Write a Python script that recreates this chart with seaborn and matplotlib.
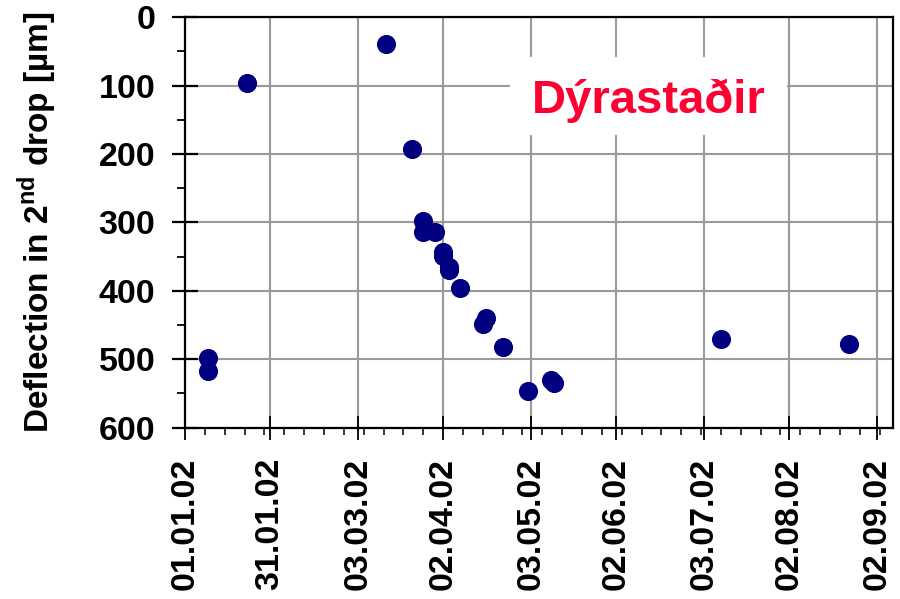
import pandas as pd
import numpy as np
import matplotlib
matplotlib.use("Agg")
import matplotlib.pyplot as plt
import matplotlib.dates as mdates
from matplotlib.patches import Rectangle
import seaborn as sns

dates = ['2002-01-09', '2002-01-09', '2002-01-23', '2002-03-13', '2002-03-22',
         '2002-03-26', '2002-03-26', '2002-03-30', '2002-04-02', '2002-04-02',
         '2002-04-04', '2002-04-04', '2002-04-08', '2002-04-17', '2002-04-16',
         '2002-04-23', '2002-05-02', '2002-05-10', '2002-05-11', '2002-07-09',
         '2002-08-23']
deflection = [499, 517, 96, 39, 192,
              298, 314, 314, 343, 349,
              365, 370, 396, 440, 449,
              482, 546, 531, 535, 471,
              478]

tick_dates = ['2002-01-01', '2002-01-31', '2002-03-03', '2002-04-02', '2002-05-03',
              '2002-06-02', '2002-07-03', '2002-08-02', '2002-09-02']
y_ticks = [0, 100, 200, 300, 400, 500, 600]
site = 'Dýrastaðir'

df = pd.DataFrame({'date': pd.to_datetime(dates), 'deflection': deflection})

sns.set_theme(style='white')
plt.rcParams['font.family'] = ['Liberation Sans', 'DejaVu Sans']
plt.rcParams['font.weight'] = 'bold'
plt.rcParams['mathtext.fontset'] = 'custom'
plt.rcParams['mathtext.rm'] = 'Liberation Sans:bold'
plt.rcParams['mathtext.bf'] = 'Liberation Sans:bold'
for key in ['text.color', 'axes.labelcolor', 'xtick.color', 'ytick.color']:
    plt.rcParams[key] = 'black'

fig = plt.figure(figsize=(9, 5.99), dpi=100)
ax = fig.add_axes([0.2056, 0.2863, 0.7863, 0.6848])

sns.scatterplot(data=df, x='date', y='deflection', ax=ax, color='#000080',
                s=190, linewidth=0, zorder=4)

ax.set_xlim(pd.Timestamp('2002-01-01'), pd.Timestamp('2002-09-07 14:00'))
ax.set_ylim(600, 0)

ax.set_xticks(pd.to_datetime(tick_dates))
ax.xaxis.set_major_formatter(mdates.DateFormatter('%d.%m.%y'))
ax.xaxis.set_minor_locator(mdates.WeekdayLocator(byweekday=mdates.TU))
ax.set_yticks(y_ticks)
ax.set_yticks(np.arange(50, 600, 100), minor=True)

ax.grid(True, which='major', color='#9a9a9a', linewidth=1.5, zorder=0)
ax.set_axisbelow(True)
for sp in ax.spines.values():
    sp.set_visible(True)
    sp.set_color('black')
    sp.set_linewidth(1.6)

ax.tick_params(axis='y', which='major', direction='inout', length=18.7, width=1.6,
               pad=12, labelsize=24.5, left=True, colors='black')
ax.tick_params(axis='y', which='minor', direction='out', length=6, width=1.3,
               left=True, color='black')
ax.tick_params(axis='x', which='major', direction='inout', length=17.3, width=1.3,
               pad=13, labelsize=24.5, labelrotation=90, bottom=True, colors='black')
ax.tick_params(axis='x', which='minor', direction='out', length=5, width=1.1,
               bottom=True, color='black')
for lab in ax.get_xticklabels() + ax.get_yticklabels():
    lab.set_fontweight('bold')

ax.set_xlabel('')
ax.set_ylabel('Deflection in 2$^{\\mathbf{nd}}$ drop [µm]', fontsize=24,
              fontweight='bold', color='black')
ax.yaxis.set_label_coords(-0.178, 0.5)

ax.add_patch(Rectangle((0.459, 0.713), 0.391, 0.19, transform=ax.transAxes,
                       facecolor='white', edgecolor='none', zorder=2))
ax.text(0.655, 0.766, site, transform=ax.transAxes, ha='center', va='baseline',
        fontsize=34, fontweight='bold', color='#FF0033', zorder=5)

fig.savefig('out.png', dpi=100)
